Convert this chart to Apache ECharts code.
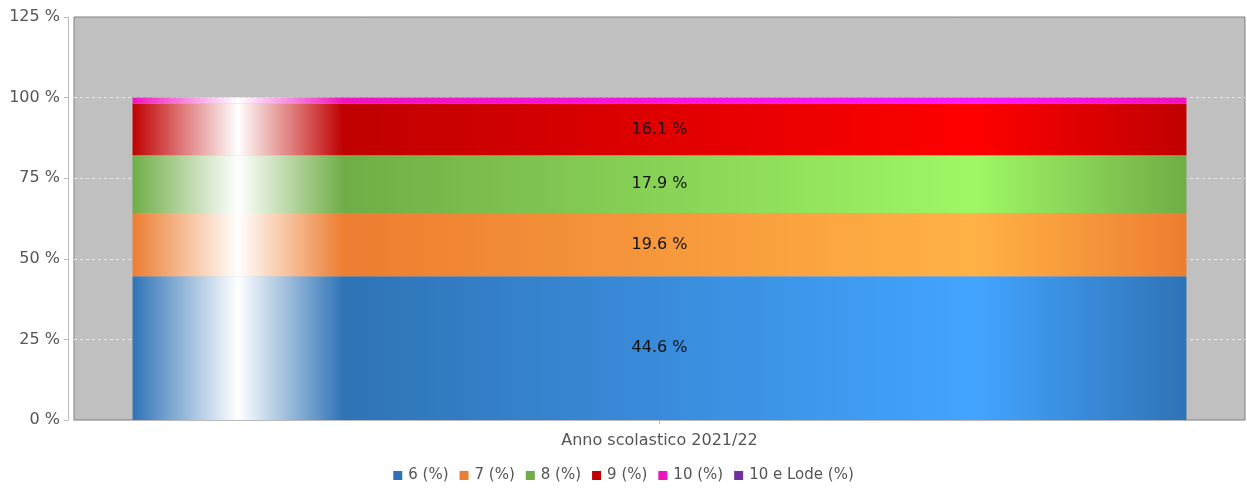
<!DOCTYPE html>
<html>
<head>
<meta charset="utf-8">
<script src="https://cdn.jsdelivr.net/npm/echarts@6/dist/echarts.min.js"></script>
<style>
html,body{margin:0;padding:0;background:#fff;}
#chart{width:1247px;height:491px;}
</style>
</head>
<body>
<div id="chart"></div>
<script>
const categories = ['Anno scolastico 2021/22'];
const seriesNames = ['6 (%)', '7 (%)', '8 (%)', '9 (%)', '10 (%)', '10 e Lode (%)'];
const values6 = [44.6];
const values7 = [19.6];
const values8 = [17.9];
const values9 = [16.1];
const values10 = [1.8];
const values10Lode = [0];
const yTicks = [0, 25, 50, 75, 100, 125];

const baseColors = ['#2F73B6', '#ED7D31', '#70AD47', '#C00000', '#F012BE', '#7030A0'];
const brightColors = ['#43A4FF', '#FFB246', '#A0F765', '#FF0000', '#FF19FF', '#A044E4'];
const allValues = [values6, values7, values8, values9, values10, values10Lode];

const FONT = 'DejaVu Sans';
const chart = echarts.init(document.getElementById('chart'));

function grad(i) {
  return new echarts.graphic.LinearGradient(0, 0, 1, 0, [
    {offset: 0, color: baseColors[i]},
    {offset: 0.1, color: '#FFFFFF'},
    {offset: 0.2, color: baseColors[i]},
    {offset: 0.8, color: brightColors[i]},
    {offset: 1, color: baseColors[i]}
  ]);
}

const series = seriesNames.map((name, i) => ({
  name: name,
  type: 'bar',
  stack: 'total',
  barWidth: '90%',
  data: allValues[i],
  itemStyle: {color: grad(i)},
  label: {
    show: true,
    position: 'inside',
    color: '#111',
    fontFamily: FONT,
    fontSize: 16,
    formatter: p => p.value >= 5 ? p.value.toFixed(1) + ' %' : ''
  },
  emphasis: {disabled: true}
}));

chart.setOption({
  animation: false,
  color: baseColors,
  textStyle: {fontFamily: FONT},
  grid: {
    left: 74, top: 17, right: 2, bottom: 71,
    show: true, backgroundColor: '#C0C0C0', borderColor: '#808080', borderWidth: 1
  },
  legend: {
    bottom: 3,
    left: 'center',
    icon: 'rect',
    itemWidth: 9,
    itemHeight: 9,
    itemGap: 11,
    textStyle: {color: '#555', fontSize: 15, fontFamily: FONT, padding: [0, 0, 0, 1]},
    data: seriesNames.map((n, i) => ({name: n, itemStyle: {color: baseColors[i]}}))
  },
  xAxis: {
    type: 'category',
    data: categories,
    offset: 5,
    axisLine: {lineStyle: {color: '#BBBBBB', width: 1}},
    axisTick: {show: true, alignWithLabel: true, length: 4, lineStyle: {color: '#BBBBBB'}},
    axisLabel: {color: '#555', fontSize: 16, fontFamily: FONT, margin: 8},
    splitLine: {show: false}
  },
  yAxis: {
    type: 'value',
    min: yTicks[0],
    max: yTicks[yTicks.length - 1],
    interval: 25,
    offset: 6,
    axisLine: {show: true, lineStyle: {color: '#BBBBBB', width: 1}},
    axisTick: {show: true, length: 4, lineStyle: {color: '#BBBBBB'}},
    axisLabel: {color: '#555', fontSize: 16, fontFamily: FONT, margin: 8, formatter: '{value} %'},
    splitLine: {show: true, showMinLine: false, showMaxLine: false, lineStyle: {color: '#E8E8E8', type: [3, 3], width: 1}}
  },
  series: series
});
</script>
</body>
</html>
